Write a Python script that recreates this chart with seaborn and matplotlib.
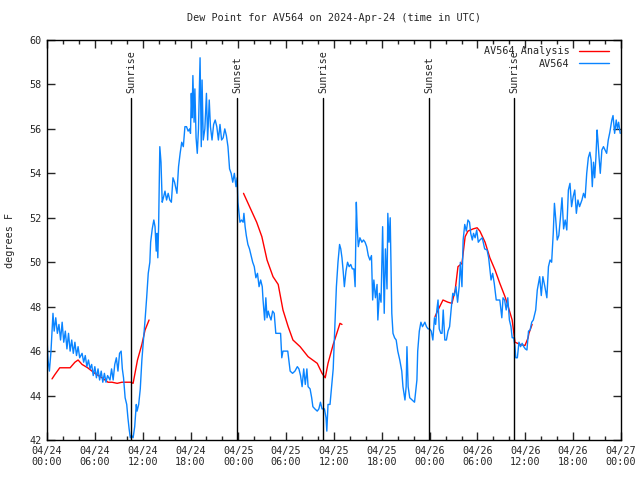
import pandas as pd
import matplotlib.pyplot as plt
import seaborn as sns

# hours since 04/24 00:00 UTC and dew point (F)
obs_hours = [0.0, 0.13, 0.3, 0.5, 0.75, 0.9, 1.1, 1.3, 1.5, 1.7, 1.9, 2.1, 2.3, 2.5, 2.7, 2.9, 3.1, 3.3, 3.5, 3.7,
             3.9, 4.1, 4.4, 4.6, 4.8, 5.0, 5.2, 5.4, 5.6, 5.8, 6.0, 6.2, 6.4, 6.6, 6.8, 7.0, 7.2, 7.4, 7.6, 7.9,
             8.1, 8.3, 8.5, 8.7, 8.9, 9.1, 9.3, 9.45, 9.6, 9.8, 10.0, 10.15, 10.3, 10.45, 10.6, 10.8, 11.0, 11.2, 11.3, 11.5,
             11.7, 11.9, 12.1, 12.3, 12.5, 12.7, 12.9, 13.0, 13.2, 13.4, 13.55, 13.7, 13.8, 13.9, 14.0, 14.15, 14.3, 14.45, 14.6, 14.8,
             15.0, 15.2, 15.4, 15.6, 15.8, 16.0, 16.3, 16.5, 16.7, 16.9, 17.1, 17.3, 17.5, 17.7, 17.9, 18.0, 18.1, 18.2, 18.3, 18.45,
             18.55, 18.7, 18.85, 19.0, 19.2, 19.35, 19.45, 19.6, 19.8, 20.0, 20.15, 20.35, 20.5, 20.7, 20.9, 21.1, 21.3, 21.5, 21.7, 21.9,
             22.1, 22.3, 22.5, 22.7, 22.9, 23.1, 23.3, 23.5, 23.7, 23.85, 23.95, 24.2, 24.4, 24.6, 24.7, 24.85, 25.0, 25.2, 25.4, 25.6,
             25.8, 26.0, 26.2, 26.4, 26.6, 26.8, 27.0, 27.1, 27.3, 27.45, 27.6, 27.75, 27.9, 28.1, 28.3, 28.5, 28.7, 29.0, 29.3, 29.45,
             29.6, 29.9, 30.2, 30.5, 30.8, 31.1, 31.4, 31.6, 31.8, 32.0, 32.2, 32.4, 32.6, 32.75, 33.0, 33.2, 33.35, 33.6, 33.9, 34.1,
             34.3, 34.5, 34.8, 35.0, 35.1, 35.25, 35.5, 35.7, 35.9, 36.1, 36.3, 36.5, 36.7, 36.85, 37.0, 37.15, 37.3, 37.5, 37.7, 37.9,
             38.1, 38.3, 38.5, 38.65, 38.8, 38.9, 39.05, 39.25, 39.5, 39.7, 39.9, 40.1, 40.3, 40.5, 40.7, 40.85, 41.0, 41.2, 41.4, 41.5,
             41.7, 41.9, 42.1, 42.3, 42.45, 42.65, 42.75, 42.9, 43.05, 43.25, 43.4, 43.6, 43.8, 44.0, 44.25, 44.5, 44.65, 44.9, 45.05, 45.15,
             45.3, 45.5, 45.8, 46.1, 46.4, 46.5, 46.7, 46.9, 47.1, 47.4, 47.6, 47.8, 48.0, 48.2, 48.4, 48.6, 48.75, 48.9, 49.05, 49.2,
             49.4, 49.55, 49.7, 49.9, 50.1, 50.3, 50.5, 50.7, 50.9, 51.1, 51.3, 51.5, 51.7, 51.85, 52.05, 52.2, 52.4, 52.6, 52.8, 53.0,
             53.15, 53.35, 53.5, 53.7, 53.9, 54.1, 54.3, 54.6, 54.9, 55.2, 55.4, 55.7, 55.9, 56.1, 56.35, 56.6, 56.8, 57.05, 57.2, 57.4,
             57.6, 57.8, 58.0, 58.2, 58.35, 58.55, 58.7, 58.8, 59.0, 59.2, 59.4, 59.6, 59.8, 60.0, 60.2, 60.4, 60.6, 60.8, 61.0, 61.3,
             61.5, 61.8, 62.0, 62.2, 62.45, 62.7, 62.9, 63.1, 63.3, 63.5, 63.65, 63.8, 64.0, 64.2, 64.4, 64.6, 64.8, 65.0, 65.2, 65.4,
             65.6, 65.8, 66.0, 66.2, 66.4, 66.6, 66.8, 67.1, 67.3, 67.5, 67.7, 67.9, 68.1, 68.25, 68.4, 68.55, 68.7, 68.85, 69.0, 69.1,
             69.25, 69.4, 69.6, 69.8, 70.0, 70.2, 70.4, 70.6, 70.85, 71.0, 71.2, 71.4, 71.55, 71.7, 71.9]
obs_dewpt = [46.6, 45.6, 45.1, 46.0, 47.7, 46.9, 47.5, 46.8, 47.2, 46.5, 47.3, 46.4, 46.9, 46.1, 46.8, 46.0, 46.5, 45.9, 46.4, 45.8,
             46.2, 45.7, 45.9, 45.5, 45.8, 45.3, 45.6, 45.2, 45.4, 44.9, 45.3, 44.8, 45.2, 44.7, 45.1, 44.6, 45.0, 44.6, 44.9, 44.7,
             45.2, 44.7, 45.4, 45.7, 45.1, 45.9, 46.0, 45.2, 44.8, 43.9, 43.6, 43.0, 42.5, 42.1, 42.2, 42.1, 42.6, 43.6, 43.3, 43.6,
             44.3, 45.6, 46.5, 47.4, 48.4, 49.5, 50.0, 50.9, 51.5, 51.9, 51.6, 50.5, 51.3, 50.2, 51.6, 55.2, 54.5, 52.7, 52.9, 53.2,
             52.8, 53.1, 52.8, 52.7, 53.8, 53.6, 53.1, 54.3, 54.9, 55.4, 55.2, 56.1, 56.1, 55.9, 56.0, 55.8, 57.6, 56.5, 58.4, 56.3,
             57.8, 55.6, 54.9, 56.0, 59.2, 55.2, 58.2, 55.5, 56.0, 57.6, 55.5, 57.3, 56.1, 55.5, 56.2, 56.4, 56.1, 55.5, 56.2, 55.5,
             55.6, 56.0, 55.7, 55.2, 54.2, 54.0, 53.6, 54.0, 53.4, 53.8, 52.7, 51.8, 51.9, 51.8, 52.2, 51.6, 51.2, 50.8, 50.6, 50.3,
             50.0, 49.8, 49.3, 49.5, 48.9, 49.2, 48.9, 48.3, 47.4, 48.4, 47.5, 47.8, 47.6, 47.4, 47.8, 47.7, 46.8, 46.8, 46.8, 45.7,
             46.0, 46.0, 46.0, 45.1, 45.0, 45.1, 45.3, 45.2, 44.9, 44.4, 45.2, 44.5, 45.2, 44.4, 44.3, 43.9, 43.5, 43.4, 43.3, 43.4,
             43.7, 43.4, 43.4, 43.0, 42.4, 43.6, 43.6, 44.4, 45.2, 47.1, 48.9, 50.0, 50.8, 50.6, 50.2, 49.6, 48.9, 49.6, 50.0, 49.8,
             49.9, 49.7, 49.7, 48.9, 52.7, 51.6, 50.7, 51.1, 50.9, 51.0, 50.9, 50.7, 50.3, 50.1, 50.3, 48.3, 49.2, 48.4, 49.0, 47.4,
             48.6, 48.2, 51.6, 47.7, 50.6, 48.8, 52.2, 50.9, 52.0, 47.7, 46.8, 46.6, 46.5, 46.0, 45.6, 45.1, 44.4, 43.8, 44.4, 46.2,
             44.4, 43.9, 43.8, 43.7, 44.7, 46.0, 46.9, 47.3, 47.1, 47.3, 47.1, 47.0, 47.0, 46.9, 46.5, 47.5, 47.2, 47.85, 48.3, 47.0,
             46.8, 46.8, 47.85, 46.5, 46.5, 46.9, 47.1, 47.9, 48.6, 48.5, 48.9, 48.2, 48.9, 50.0, 48.9, 51.0, 51.7, 51.4, 51.9, 51.8,
             51.3, 51.0, 51.3, 51.1, 51.45, 50.9, 51.0, 51.1, 50.6, 50.55, 50.2, 49.2, 49.5, 49.05, 48.3, 48.3, 48.3, 47.5, 48.4, 48.3,
             47.85, 48.4, 47.4, 47.1, 46.6, 46.6, 46.2, 45.7, 45.7, 46.4, 46.2, 46.35, 46.2, 46.1, 46.05, 46.9, 46.95, 47.3, 47.4, 47.85,
             48.75, 49.35, 48.5, 49.35, 48.9, 48.4, 49.8, 50.1, 50.0, 51.3, 52.65, 52.0, 51.0, 51.2, 52.0, 52.9, 51.5, 51.9, 51.45, 53.25,
             53.55, 52.5, 52.95, 53.25, 52.2, 52.8, 52.5, 52.8, 53.1, 52.9, 54.0, 54.7, 54.95, 54.6, 53.4, 54.5, 53.8, 54.7, 55.95, 55.5,
             54.7, 54.0, 55.05, 55.2, 55.05, 54.9, 55.5, 55.85, 56.4, 56.6, 55.8, 56.4, 56.0, 56.3, 55.8]

# analysis segments (gaps between them)
ana_hours = [[0.63, 1.0, 1.6, 2.9, 3.5, 3.9, 4.4, 5.1, 6.0, 6.9, 7.65, 8.15, 8.8, 9.4, 10.5, 10.8, 11.35, 11.9, 12.3, 12.8],
             [24.65, 25.6, 26.3, 26.95, 27.6, 28.35, 29.0, 29.6, 30.25, 30.85, 31.75, 32.75, 33.9, 34.5, 34.9, 35.25, 35.9, 36.35,
              36.75, 37.0],
             [48.67, 49.05, 49.67, 50.3, 50.8, 51.2, 51.55, 52.05, 52.45, 52.8, 53.45, 53.95, 54.3, 54.95, 55.55, 56.2, 56.8,
              57.45, 57.85, 58.35, 58.7, 59.35, 59.95, 60.35, 60.45, 60.85]]
ana_dewpt = [[44.75, 44.95, 45.25, 45.25, 45.5, 45.6, 45.4, 45.25, 45.0, 44.8, 44.6, 44.6, 44.55, 44.6, 44.6, 44.55, 45.6, 46.3,
              46.95, 47.4],
             [53.1, 52.35, 51.8, 51.15, 50.1, 49.35, 49.0, 47.85, 47.1, 46.5, 46.2, 45.75, 45.45, 45.0, 44.8, 45.45, 46.3, 46.8,
              47.25, 47.2],
             [47.55, 47.85, 48.3, 48.2, 48.15, 48.75, 49.8, 49.95, 51.15, 51.4, 51.5, 51.55, 51.4, 50.9, 50.2, 49.65, 49.05,
              48.45, 48.0, 47.4, 46.4, 46.3, 46.25, 46.6, 46.8, 47.2]]

sun_hours = [10.54, 23.87, 34.66, 47.96, 58.62]
sun_labels = ['Sunrise', 'Sunset', 'Sunrise', 'Sunset', 'Sunrise']

tick_hours = list(range(0, 73, 6))
tick_labels = ['04/24\n00:00', '04/24\n06:00', '04/24\n12:00', '04/24\n18:00',
               '04/25\n00:00', '04/25\n06:00', '04/25\n12:00', '04/25\n18:00',
               '04/26\n00:00', '04/26\n06:00', '04/26\n12:00', '04/26\n18:00', '04/27\n00:00']

sns.set_style('white')
plt.rcParams['font.family'] = ['DejaVu Sans Mono', 'DejaVu Sans']
fs = 7.3

fig, ax = plt.subplots(figsize=(6.4, 4.8), dpi=100)
fig.subplots_adjust(left=47/640, right=621/640, top=1-40/480, bottom=1-440/480)

for i in range(len(ana_hours)):
    seg = pd.DataFrame({'hour': ana_hours[i], 'dewpt': ana_dewpt[i]})
    sns.lineplot(data=seg, x='hour', y='dewpt', color='#ff0000', lw=1.0, ax=ax,
                 label='AV564 Analysis' if i == 0 else None)

obs = pd.DataFrame({'hour': obs_hours, 'dewpt': obs_dewpt})
sns.lineplot(data=obs, x='hour', y='dewpt', color='#0a84ff', lw=1.0, ax=ax, label='AV564')

top_line = 57.4
for h, lab in zip(sun_hours, sun_labels):
    ax.plot([h, h], [42, top_line], color='black', lw=1.0)
    ax.text(h, top_line + 0.2, lab, rotation=90, ha='center', va='bottom', fontsize=fs)

ax.set_xlim(0, 72)
ax.set_ylim(42, 60)
ax.set_xticks(tick_hours)
ax.set_xticklabels(tick_labels, fontsize=fs)
ax.set_xticks(range(0, 73, 2), minor=True)
ax.set_yticks(range(42, 61, 2))
ax.tick_params(axis='y', labelsize=fs)
ax.tick_params(which='major', direction='in', length=6, width=1, top=True, right=True, bottom=True, left=True, pad=4)
ax.tick_params(which='minor', direction='in', length=3, width=1, top=True, bottom=True)
for s in ax.spines.values():
    s.set_color('black')
    s.set_linewidth(1.0)

ax.set_xlabel('')
ax.set_ylabel('degrees F', fontsize=fs, labelpad=10)
ax.set_title('Dew Point for AV564 on 2024-Apr-24 (time in UTC)', fontsize=fs, pad=14)

leg = ax.legend(loc='upper right', bbox_to_anchor=(0.99, 1.0), frameon=False, markerfirst=False,
                fontsize=fs, handlelength=3.0, labelspacing=0.25, borderpad=0.1, handletextpad=0.9)

fig.savefig('out.png', dpi=100)
